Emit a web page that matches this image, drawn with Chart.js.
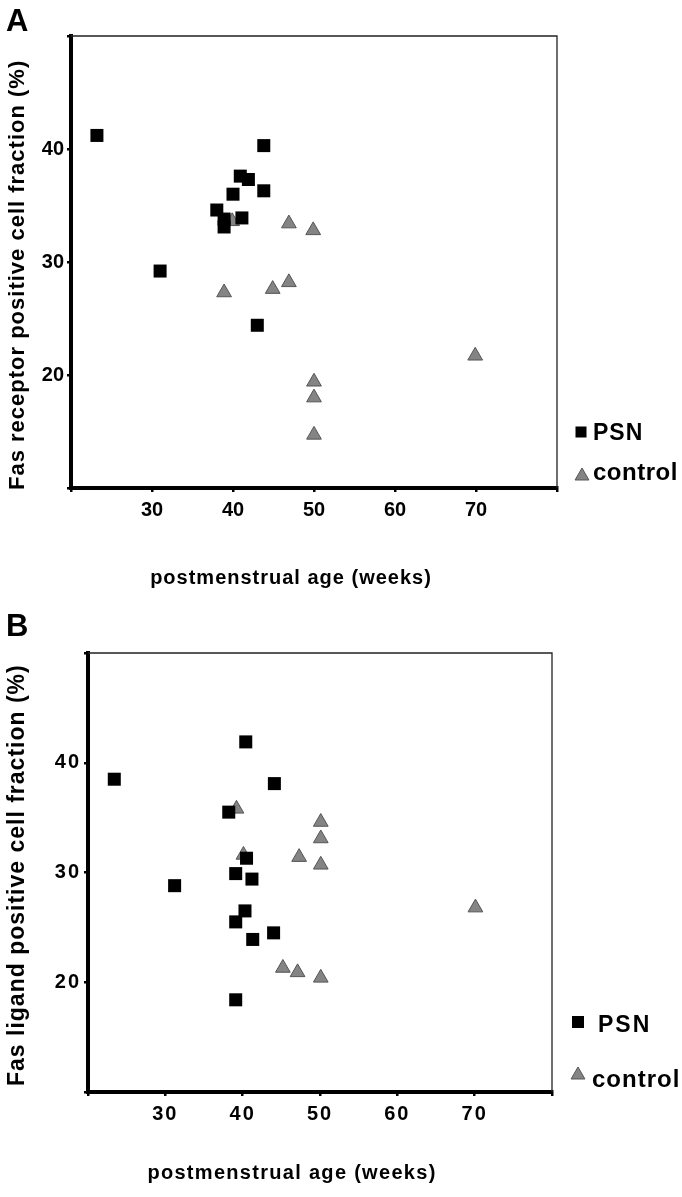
<!DOCTYPE html>
<html>
<head>
<meta charset="utf-8">
<script src="https://cdn.jsdelivr.net/npm/chart.js@4.4.1/dist/chart.umd.min.js"></script>
<style>
  html, body { margin: 0; padding: 0; background: #fff; }
  body { width: 682px; height: 1197px; position: relative; overflow: hidden; font-family: 'Liberation Sans', Arial, sans-serif; }
  .panel { position: absolute; left: 0; width: 682px; }
  #panelA { top: 0; height: 600px; }
  #panelB { top: 600px; height: 597px; }
  .letter { position: absolute; left: 6px; font-weight: bold; font-size: 31px; line-height: 31px; }
</style>
</head>
<body>
<div class="panel" id="panelA"><canvas id="chartA"></canvas></div>
<div class="panel" id="panelB"><canvas id="chartB"></canvas></div>
<div class="letter" style="top:5px">A</div>
<div class="letter" style="top:610px">B</div>
<script>
/* ============ DATA ============ */
const xTicks = [20, 30, 40, 50, 60, 70, 80];
const yTicks = [10, 20, 30, 40, 50];
const seriesNames = ['PSN', 'control'];
const xTitle = 'postmenstrual age (weeks)';

// panel A: Fas receptor
const psnAgeA = [23.2, 31.0, 38.0, 38.9, 38.9, 40.0, 40.9, 41.9, 41.1, 43.8, 43.8, 43.0];
const psnFasA = [41.2, 29.2, 34.6, 33.8, 33.1, 36.0, 37.6, 37.3, 33.9, 40.3, 36.3, 24.4];
const ctrlAgeA = [39.9, 46.9, 49.9, 38.9, 44.9, 46.9, 50.0, 50.0, 50.0, 69.9];
const ctrlFasA = [33.6, 33.4, 32.8, 27.3, 27.6, 28.2, 19.4, 18.0, 14.7, 21.7];

// panel B: Fas ligand
const psnAgeB = [23.4, 40.4, 44.1, 38.2, 40.5, 39.1, 41.2, 31.2, 40.3, 39.1, 41.3, 44.0, 39.1];
const psnFasB = [38.5, 41.9, 38.1, 35.5, 31.3, 29.9, 29.4, 28.8, 26.5, 25.5, 23.9, 24.5, 18.4];
const ctrlAgeB = [39.2, 40.1, 47.3, 50.1, 50.1, 50.1, 45.2, 47.1, 50.1, 70.1];
const ctrlFasB = [35.8, 31.6, 31.4, 34.6, 33.1, 30.7, 21.3, 20.9, 20.4, 26.8];

/* ============ HELPERS ============ */
const FONT = "'Liberation Sans', Arial, sans-serif";
const pts = (xs, ys) => xs.map((x, i) => ({ x, y: ys[i] }));
const hideEnds = (ticks) => (v) => (v === ticks[0] || v === ticks[ticks.length - 1]) ? '' : v;

// thin top/right frame, axis titles, legend at bottom right
const framePlugin = {
  id: 'frame',
  beforeDraw(chart, args, opts) {
    chart.ctx.letterSpacing = opts.spacing + 'px';
  },
  beforeDatasetsDraw(chart) {
    const { ctx, chartArea: a } = chart;
    ctx.save();
    ctx.strokeStyle = '#222';
    ctx.lineWidth = 1.3;
    ctx.beginPath();
    ctx.moveTo(a.left, a.top);
    ctx.lineTo(a.right, a.top);
    ctx.lineTo(a.right, a.bottom);
    ctx.stroke();
    ctx.restore();
  },
  afterDraw(chart, args, opts) {
    const { ctx } = chart;
    const ds = chart.data.datasets;
    ctx.save();
    ctx.fillStyle = '#000';

    // x title
    const xt = opts.xTitle;
    ctx.letterSpacing = xt.spacing + 'px';
    ctx.font = 'bold ' + xt.font + 'px ' + FONT;
    ctx.textAlign = 'center';
    ctx.textBaseline = 'middle';
    ctx.fillText(xTitle, xt.cx, xt.cy);

    // y title (rotated, reads bottom to top)
    const yt = opts.yTitle;
    ctx.save();
    ctx.letterSpacing = yt.spacing + 'px';
    ctx.font = 'bold ' + yt.font + 'px ' + FONT;
    ctx.translate(yt.cx, yt.start);
    ctx.rotate(-Math.PI / 2);
    ctx.textAlign = 'left';
    ctx.textBaseline = 'middle';
    ctx.fillText(yt.text, 0, 0);
    ctx.restore();

    // legend
    ctx.textBaseline = 'alphabetic';
    ctx.textAlign = 'left';
    opts.items.forEach((it, i) => {
      const d = ds[i];
      ctx.fillStyle = d.backgroundColor;
      if (d.pointStyle === 'rect') {
        ctx.fillRect(it.mx - it.size / 2, it.my - it.size / 2, it.size, it.size);
      } else {
        const r = it.size;
        ctx.beginPath();
        ctx.moveTo(it.mx, it.my - r);
        ctx.lineTo(it.mx + r * 0.866, it.my + r / 2);
        ctx.lineTo(it.mx - r * 0.866, it.my + r / 2);
        ctx.closePath();
        ctx.fill();
        ctx.strokeStyle = d.borderColor;
        ctx.lineWidth = 1;
        ctx.stroke();
      }
      ctx.letterSpacing = it.spacing + 'px';
      ctx.fillStyle = '#000';
      ctx.font = 'bold ' + it.font + 'px ' + FONT;
      ctx.fillText(d.label, it.tx, it.ty);
    });
    ctx.restore();
  }
};

function makeChart(id, cfg) {
  return new Chart(document.getElementById(id), {
    type: 'scatter',
    data: {
      datasets: [
        {
          label: seriesNames[0],
          data: pts(cfg.psnX, cfg.psnY),
          pointStyle: 'rect',
          pointRadius: 9.2,
          pointHoverRadius: 9.2,
          backgroundColor: '#000',
          borderColor: '#000',
          borderWidth: 0
        },
        {
          label: seriesNames[1],
          data: pts(cfg.ctrlX, cfg.ctrlY),
          pointStyle: 'triangle',
          pointRadius: 8.5,
          pointHoverRadius: 8.5,
          backgroundColor: '#848484',
          borderColor: '#555',
          borderWidth: 1
        }
      ]
    },
    options: {
      responsive: true, maintainAspectRatio: false,
      animation: false,
      layout: { padding: { left: 0, top: cfg.top, right: cfg.right, bottom: 0 } },
      plugins: {
        legend: { display: false },
        tooltip: { enabled: false },
        frame: { spacing: cfg.spacing, items: cfg.legend, xTitle: cfg.xTitle, yTitle: cfg.yTitle }
      },
      scales: {
        x: {
          type: 'linear', min: 20, max: 80,
          afterBuildTicks: s => { s.ticks = xTicks.map(v => ({ value: v })); },
          afterFit: s => { s.height = cfg.xHeight; },
          border: { display: true, color: '#000', width: 4 },
          grid: { drawOnChartArea: false, drawTicks: true, tickLength: 4, color: '#000', lineWidth: 2.5 },
          ticks: { color: '#000', padding: 6, maxRotation: 0, font: { family: FONT, weight: 'bold', size: cfg.tickSize }, callback: hideEnds(xTicks) },
          title: { display: false }
        },
        y: {
          type: 'linear', min: 10, max: 50,
          afterBuildTicks: s => { s.ticks = yTicks.map(v => ({ value: v })); },
          afterFit: s => { s.width = cfg.yWidth; },
          border: { display: true, color: '#000', width: 4 },
          grid: { drawOnChartArea: false, drawTicks: true, tickLength: 4, color: '#000', lineWidth: 2.5 },
          ticks: { color: '#000', padding: 3, font: { family: FONT, weight: 'bold', size: cfg.tickSize }, callback: hideEnds(yTicks) },
          title: { display: false }
        }
      }
    },
    plugins: [framePlugin]
  });
}

/* ============ PANEL A ============ */
makeChart('chartA', {
  psnX: psnAgeA, psnY: psnFasA, ctrlX: ctrlAgeA, ctrlY: ctrlFasA,
  top: 36, right: 125, xHeight: 112, yWidth: 71,
  tickSize: 20, spacing: 0,
  xTitle: { cx: 291, cy: 578, font: 20, spacing: 1 },
  yTitle: { text: 'Fas receptor positive cell fraction (%)', cx: 18, start: 490, font: 22, spacing: 1 },
  legend: [
    { mx: 581, my: 432, size: 11, tx: 593, ty: 440, font: 23, spacing: 1 },
    { mx: 582, my: 476, size: 8, tx: 593, ty: 480, font: 24, spacing: 0.5 }
  ]
});

/* ============ PANEL B ============ */
makeChart('chartB', {
  psnX: psnAgeB, psnY: psnFasB, ctrlX: ctrlAgeB, ctrlY: ctrlFasB,
  top: 53, right: 130, xHeight: 105, yWidth: 88,
  tickSize: 20, spacing: 2,
  xTitle: { cx: 292, cy: 573, font: 20, spacing: 1.3 },
  yTitle: { text: 'Fas ligand positive cell fraction (%)', cx: 18, start: 486, font: 23, spacing: 1 },
  legend: [
    { mx: 578, my: 422, size: 12, tx: 598, ty: 432, font: 23, spacing: 2 },
    { mx: 578, my: 475, size: 8, tx: 592, ty: 487, font: 24, spacing: 1 }
  ]
});
</script>
</body>
</html>
